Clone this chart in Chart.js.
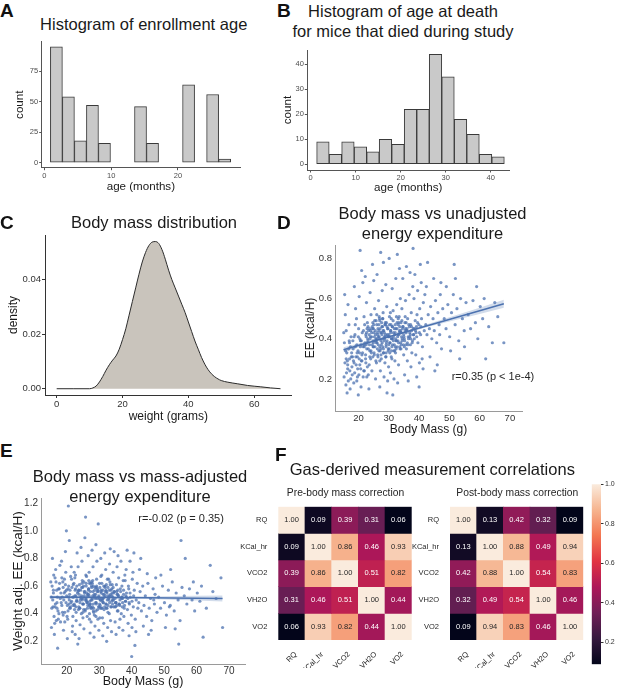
<!DOCTYPE html>
<html>
<head>
<meta charset="utf-8">
<title>Enrollment, body mass and energy expenditure</title>
<script src="https://cdn.jsdelivr.net/npm/chart.js@4.4.1/dist/chart.umd.min.js"></script>
<style>
html, body { margin: 0; padding: 0; background: #fff; }
#fig { position: relative; width: 617px; height: 689px; overflow: hidden; font-family: 'Liberation Sans', Arial, sans-serif; color: #1a1a1a; }
#fig canvas { position: absolute; }
.letter { position: absolute; font-size: 19px; font-weight: bold; line-height: 1; color: #111; }
.title { position: absolute; font-size: 16.5px; line-height: 20px; text-align: center; white-space: nowrap; transform: translateX(-50%); }
.sub { position: absolute; font-size: 10.3px; line-height: 1; white-space: nowrap; transform: translateX(-50%); color: #262626; }
.note { position: absolute; font-size: 11px; line-height: 1; white-space: nowrap; color: #262626; }
</style>
</head>
<body>
<div id="fig">
  <canvas id="chartA" style="left:0px;top:40px" width="245" height="155"></canvas>
  <canvas id="chartB" style="left:276px;top:45px" width="239" height="152"></canvas>
  <canvas id="chartC" style="left:0px;top:230px" width="297" height="195"></canvas>
  <canvas id="chartD" style="left:298px;top:240px" width="232" height="198"></canvas>
  <canvas id="chartE" style="left:0px;top:493px" width="250" height="196"></canvas>
  <canvas id="chartPre" style="left:240px;top:500px" width="175" height="180"></canvas>
  <canvas id="chartPost" style="left:410px;top:500px" width="177" height="180"></canvas>
  <canvas id="chartBar" style="left:588px;top:480px" width="29" height="188"></canvas>

  <div class="letter" style="left:0px;top:0.8px">A</div>
  <div class="letter" style="left:277px;top:1px">B</div>
  <div class="letter" style="left:0px;top:212.5px">C</div>
  <div class="letter" style="left:277px;top:212.5px">D</div>
  <div class="letter" style="left:0px;top:441px">E</div>
  <div class="letter" style="left:275px;top:444.5px">F</div>

  <div class="title" style="left:143.7px;top:13.6px">Histogram of enrollment age</div>
  <div class="title" style="left:403px;top:1px">Histogram of age at death<br>for mice that died during study</div>
  <div class="title" style="left:154px;top:212px">Body mass distribution</div>
  <div class="title" style="left:432.5px;top:202.6px">Body mass vs unadjusted<br>energy expenditure</div>
  <div class="title" style="left:140px;top:466px">Body mass vs mass-adjusted<br>energy expenditure</div>
  <div class="title" style="left:432.3px;top:459.3px">Gas-derived measurement correlations</div>
  <div class="sub" style="left:345.5px;top:488px">Pre-body mass correction</div>
  <div class="sub" style="left:517.3px;top:488px">Post-body mass correction</div>
  <div class="note" style="left:451.7px;top:370.7px">r=0.35 (p &lt; 1e-4)</div>
  <div class="note" style="left:138.3px;top:513.4px">r=-0.02 (p = 0.35)</div>
</div>

<script>
// A: enrollment age histogram (bin centres, months)
var enrollBinMid = [1.8, 3.6, 5.4, 7.2, 9.0, 10.8, 12.6, 14.4, 16.2, 18.0, 19.8, 21.6, 23.4, 25.2, 27.0];
var enrollCounts = [95, 54, 18, 47, 16, 0, 0, 46, 16, 0, 0, 64, 0, 56, 3];
var enrollTicksX = [0, 10, 20];
var enrollTicksY = [0, 25, 50, 75];

// B: age at death histogram
var deathBinMid = [2.72, 5.5, 8.28, 11.06, 13.84, 16.62, 19.4, 22.18, 24.96, 27.74, 30.52, 33.3, 36.08, 38.86, 41.64];
var deathCounts = [9, 4, 9, 7, 5, 10, 8, 22, 22, 44, 35, 18, 12, 4, 3];
var deathTicksX = [0, 10, 20, 30, 40];
var deathTicksY = [0, 10, 20, 30, 40];

// C: body mass density curve
var weightGrid = [0, 5, 10, 11, 12, 13, 14, 15, 16, 17, 18, 19, 20, 21, 22, 23, 24, 25, 26, 27, 28, 29, 30, 31, 32, 33, 34, 35, 36, 37, 38, 39, 40, 41, 42, 43, 44, 45, 46, 47, 48, 49, 50, 52, 55, 58, 62, 65, 68];
var weightDensity = [0, 0, 0, 0.0003, 0.001, 0.0025, 0.0045, 0.0068, 0.0088, 0.0105, 0.012, 0.0145, 0.018, 0.022, 0.027, 0.032, 0.037, 0.042, 0.0465, 0.05, 0.0525, 0.0538, 0.054, 0.0533, 0.051, 0.0475, 0.0435, 0.04, 0.037, 0.034, 0.031, 0.028, 0.0245, 0.021, 0.0175, 0.0145, 0.0115, 0.009, 0.007, 0.0055, 0.0044, 0.0036, 0.003, 0.0024, 0.0018, 0.0012, 0.0007, 0.0003, 0];
var weightTicksX = [0, 20, 40, 60];
var weightTicksY = [0, 0.02, 0.04];

// D: body mass (g) vs unadjusted EE (kcal/H)
var unadjustedPoints = [
  [15.2,0.21],[15.5,0.28],[15.8,0.17],[16.1,0.33],[16.4,0.25],[15.3,0.38],[15.9,0.44],[16.6,0.19],[17.0,0.30],[17.3,0.36],
  [16.2,0.13],[15.6,0.52],[17.5,0.41],[16.8,0.47],[17.8,0.26],[15.4,0.62],[16.0,0.23],[17.2,0.15],[15.7,0.34],[16.9,0.39],
  [17.6,0.31],[15.1,0.43],[16.3,0.29],[17.9,0.22],[16.5,0.57],
  [18.2,0.35],[18.5,0.28],[18.8,0.42],[19.1,0.31],[19.4,0.37],[19.7,0.25],[20.0,0.45],[20.3,0.33],[20.6,0.39],[20.9,0.29],
  [21.2,0.43],[21.5,0.36],[21.8,0.51],[18.4,0.18],[19.0,0.55],[19.6,0.21],[20.2,0.61],[20.8,0.16],[21.4,0.68],[18.9,0.47],
  [19.9,0.12],[21.0,0.74],[21.7,0.24],[20.5,0.84],[18.6,0.66],[19.3,0.50],[21.1,0.32],[20.4,0.40],[19.8,0.34],[18.1,0.39],
  [22.1,0.38],[22.4,0.42],[22.7,0.35],[23.0,0.40],[23.3,0.44],[23.6,0.37],[23.9,0.41],[24.2,0.33],[24.5,0.46],[24.8,0.39],
  [25.1,0.43],[25.4,0.36],[25.7,0.40],[22.3,0.30],[22.9,0.48],[23.5,0.27],[24.1,0.52],[24.7,0.31],[25.3,0.55],[25.9,0.28],
  [22.6,0.58],[23.2,0.22],[23.8,0.63],[24.4,0.24],[25.0,0.69],[25.6,0.20],[22.2,0.71],[23.4,0.15],[24.6,0.77],[25.8,0.49],
  [22.8,0.45],[23.7,0.34],[24.9,0.38],[25.2,0.41],[24.0,0.44],[22.5,0.37],
  [26.0,0.40],[26.2,0.43],[26.5,0.37],[26.8,0.41],[27.1,0.45],[27.4,0.39],[27.7,0.42],[28.0,0.36],[28.3,0.44],[28.6,0.40],
  [28.9,0.47],[29.2,0.38],[29.5,0.42],[29.8,0.35],[26.3,0.32],[26.9,0.50],[27.5,0.30],[28.1,0.53],[28.7,0.28],[29.3,0.56],
  [29.9,0.26],[26.6,0.59],[27.2,0.24],[27.8,0.64],[28.4,0.21],[29.0,0.67],[29.6,0.19],[26.1,0.72],[27.0,0.16],[28.2,0.78],
  [29.4,0.13],[27.3,0.83],[28.8,0.48],[26.7,0.34],[27.9,0.46],[29.1,0.33],[29.7,0.41],[28.5,0.39],[27.6,0.43],[26.4,0.45],
  [30.0,0.42],[30.3,0.38],[30.6,0.44],[30.9,0.40],[31.2,0.46],[31.5,0.41],[31.8,0.37],[32.1,0.43],[32.4,0.39],[32.7,0.45],
  [33.0,0.42],[33.3,0.48],[33.6,0.36],[33.9,0.44],[30.2,0.51],[30.8,0.31],[31.4,0.54],[32.0,0.29],[32.6,0.57],[33.2,0.27],
  [33.8,0.60],[30.5,0.23],[31.1,0.65],[31.7,0.20],[32.3,0.70],[32.9,0.18],[33.5,0.75],[30.1,0.80],[31.3,0.12],[32.8,0.82],
  [33.1,0.50],[31.9,0.34],[30.7,0.47],[32.2,0.40],[31.0,0.36],[33.4,0.43],
  [34.1,0.43],[34.4,0.39],[34.7,0.46],[35.0,0.41],[35.3,0.48],[35.6,0.37],[35.9,0.44],[36.2,0.50],[36.5,0.40],[36.8,0.46],
  [37.1,0.42],[37.4,0.53],[37.7,0.38],[34.3,0.55],[34.9,0.32],[35.5,0.59],[36.1,0.29],[36.7,0.62],[37.3,0.26],[37.9,0.66],
  [34.6,0.70],[35.2,0.22],[35.8,0.76],[36.4,0.19],[37.0,0.73],[37.6,0.33],[34.0,0.35],[36.0,0.45],[35.4,0.51],[37.2,0.47],
  [38.1,0.45],[38.4,0.40],[38.7,0.49],[39.0,0.43],[39.3,0.52],[39.6,0.38],[39.9,0.47],[40.2,0.55],[40.5,0.42],[40.8,0.50],
  [41.1,0.36],[41.4,0.58],[41.7,0.44],[38.3,0.60],[38.9,0.32],[39.5,0.64],[40.1,0.28],[40.7,0.68],[41.3,0.25],[41.9,0.62],
  [38.6,0.72],[39.2,0.21],[40.4,0.77],[41.0,0.30],[38.0,0.85],[40.0,0.16],
  [42.2,0.47],[42.6,0.42],[43.0,0.52],[43.4,0.45],[43.8,0.56],[44.2,0.40],[44.6,0.50],[45.0,0.44],[45.4,0.59],[45.8,0.38],
  [46.2,0.53],[46.6,0.47],[47.0,0.62],[47.4,0.35],[47.8,0.55],[42.4,0.66],[43.6,0.31],[44.8,0.70],[46.0,0.27],[47.2,0.68],
  [42.8,0.78],[45.2,0.24],[46.8,0.42],
  [48.3,0.50],[48.9,0.45],[49.5,0.57],[50.1,0.41],[50.7,0.53],[51.3,0.62],[51.9,0.47],[52.5,0.55],[53.1,0.39],[53.7,0.60],
  [54.3,0.50],[54.9,0.44],[55.5,0.58],[49.0,0.66],[50.4,0.34],[52.0,0.70],[53.4,0.30],[55.0,0.36],[51.6,0.77],
  [56.2,0.52],[57.0,0.45],[57.8,0.59],[58.6,0.48],[59.4,0.40],[60.2,0.56],[61.0,0.50],[62.0,0.30],[63.0,0.46],[64.2,0.38],
  [65.0,0.58],[66.0,0.51],[68.0,0.38],[59.0,0.66],[61.5,0.60],
  [24.3,0.41],[24.9,0.36],[25.5,0.44],[26.1,0.38],[26.7,0.47],[27.3,0.35],[27.9,0.40],[28.5,0.43],[29.1,0.37],[29.7,0.45],
  [30.3,0.41],[30.9,0.34],[31.5,0.39],[32.1,0.47],[32.7,0.36],[33.3,0.42],[33.9,0.38],[34.5,0.45],[35.1,0.40],[35.7,0.43],
  [36.3,0.37],[24.6,0.45],[25.2,0.32],[25.8,0.39],[26.4,0.42],[27.0,0.36],[27.6,0.48],[28.2,0.33],[28.8,0.41],[29.4,0.46],
  [30.0,0.37],[30.6,0.43],[31.2,0.40],[31.8,0.45],[32.4,0.35],[33.0,0.39],[33.6,0.46],[34.2,0.41],[34.8,0.37],[35.4,0.44],
  [23.1,0.39],[23.7,0.45],[22.5,0.41],[21.9,0.36],[36.9,0.41],[37.5,0.44],[38.2,0.42],[39.1,0.46],[28.0,0.50],[30.5,0.53],
  [26.0,0.52],[32.5,0.51],[29.0,0.31],[31.0,0.30],[27.0,0.29],[34.0,0.48],[25.0,0.47],[35.8,0.35],[20.8,0.37],[19.5,0.33],
  [20.2,0.30],[20.6,0.36],[19.9,0.41],[20.4,0.27],[21.3,0.33],[20.9,0.39],[21.6,0.44],[21.1,0.29],
  [22.3,0.32],[21.8,0.37],[22.6,0.43],[22.0,0.47],[22.4,0.28],[23.2,0.35],[22.8,0.38],[23.5,0.42],[23.1,0.46],[23.7,0.31],[22.9,0.26],
  [24.1,0.34],[24.5,0.37],[23.8,0.40],[24.3,0.43],[24.7,0.48],[24.0,0.30],
  [25.1,0.33],[24.8,0.36],[25.4,0.39],[25.6,0.42],[24.9,0.45],[25.3,0.49],[25.7,0.29],
  [26.2,0.35],[25.9,0.38],[26.5,0.41],[26.7,0.44],[26.0,0.47],[26.4,0.31],[26.8,0.51],
  [27.1,0.34],[27.5,0.37],[26.9,0.40],[27.3,0.43],[27.7,0.46],[27.0,0.49],[27.4,0.32],
  [28.2,0.35],[27.8,0.38],[28.5,0.41],[28.1,0.44],[28.7,0.47],[28.3,0.33],[27.9,0.50],
  [29.1,0.36],[29.4,0.39],[28.9,0.42],[29.6,0.45],[29.2,0.48],[29.8,0.34],[29.0,0.31],
  [30.1,0.35],[30.4,0.38],[29.9,0.41],[30.6,0.44],[30.2,0.47],[30.8,0.50],[30.3,0.33],
  [31.2,0.37],[30.9,0.40],[31.5,0.43],[31.1,0.46],[31.7,0.34],[31.4,0.49],
  [32.1,0.36],[32.5,0.39],[31.9,0.42],[32.3,0.45],[32.7,0.48],[32.2,0.33],
  [33.2,0.38],[32.9,0.41],[33.5,0.44],[33.1,0.47],[33.7,0.35],[33.4,0.51],
  [34.1,0.37],[34.4,0.40],[33.9,0.43],[34.6,0.46],[34.3,0.49],
  [35.2,0.39],[34.9,0.42],[35.5,0.45],[35.1,0.36],[35.7,0.48],
  [36.1,0.38],[36.4,0.41],[35.9,0.44],[36.6,0.47],[37.2,0.40],[36.9,0.43],[37.5,0.46],[37.1,0.37],
  [38.1,0.42],[38.4,0.45],[37.8,0.39],[39.2,0.41],[38.8,0.44],[39.5,0.48],[40.1,0.43],[40.6,0.46],
  [16.4,0.27],[17.1,0.24],[17.7,0.33],[18.3,0.29],[18.7,0.23],[19.2,0.27],[19.6,0.31],[20.1,0.22],[16.7,0.35],[17.4,0.20],
  [18.0,0.31],[18.9,0.36],[19.4,0.19],[20.7,0.25],[21.5,0.21],[15.9,0.30],[17.0,0.38],[18.5,0.41],[21.9,0.24],[22.7,0.21]
];
var fitMass = [15, 30, 45, 60, 68];
var unadjFit = [0.345, 0.410, 0.475, 0.539, 0.574];
var unadjLow = [0.333, 0.406, 0.467, 0.523, 0.554];
var unadjHigh = [0.357, 0.414, 0.483, 0.555, 0.594];
var massTicks = [20, 30, 40, 50, 60, 70];
var unadjTicksY = [0.2, 0.4, 0.6, 0.8];

// E: body mass (g) vs weight-adjusted EE (kcal/H)
var adjustedPoints = [
  [15.2,0.52],[15.5,0.60],[15.8,0.45],[16.1,0.38],[16.4,0.66],[15.3,0.30],[15.9,0.55],[16.6,0.72],[17.0,0.48],[17.3,0.42],
  [16.2,0.25],[15.6,0.80],[17.5,0.58],[16.8,0.35],[17.8,0.62],[15.4,0.44],[16.0,0.68],[17.2,0.15],[15.7,0.50],[16.9,0.57],
  [17.6,0.40],[15.1,0.63],[16.3,0.33],[17.9,0.75],[16.5,0.47],
  [18.2,0.55],[18.5,0.46],[18.8,0.63],[19.1,0.50],[19.4,0.41],[19.7,0.70],[20.0,0.53],[20.3,0.36],[20.6,0.60],[20.9,0.44],
  [21.2,0.67],[21.5,0.49],[21.8,0.31],[18.4,0.78],[19.0,0.28],[19.6,0.85],[20.2,0.22],[20.8,0.93],[21.4,0.74],[18.9,0.39],
  [19.9,1.00],[21.0,0.57],[21.7,0.27],[20.5,1.18],[18.6,0.52],[19.3,0.65],[21.1,0.45],[20.4,0.58],[19.8,0.48],[18.1,0.34],
  [22.1,0.52],[22.4,0.46],[22.7,0.58],[23.0,0.49],[23.3,0.55],[23.6,0.43],[23.9,0.61],[24.2,0.50],[24.5,0.40],[24.8,0.64],
  [25.1,0.47],[25.4,0.56],[25.7,0.42],[22.3,0.70],[22.9,0.35],[23.5,0.74],[24.1,0.32],[24.7,0.78],[25.3,0.29],[25.9,0.68],
  [22.6,0.25],[23.2,0.84],[23.8,0.22],[24.4,0.88],[25.0,0.37],[25.6,0.95],[22.2,0.62],[23.4,0.18],[24.6,0.53],[25.8,1.10],
  [22.8,0.45],[23.7,0.57],[24.9,0.51],[25.2,0.60],[24.0,0.44],[22.5,0.66],
  [26.0,0.50],[26.2,0.55],[26.5,0.46],[26.8,0.58],[27.1,0.49],[27.4,0.62],[27.7,0.44],[28.0,0.53],[28.3,0.41],[28.6,0.57],
  [28.9,0.48],[29.2,0.65],[29.5,0.43],[29.8,0.52],[26.3,0.38],[26.9,0.70],[27.5,0.34],[28.1,0.74],[28.7,0.31],[29.3,0.78],
  [29.9,0.28],[26.6,0.82],[27.2,0.26],[27.8,0.86],[28.4,0.23],[29.0,0.90],[29.6,0.36],[26.1,0.67],[27.0,0.40],[28.2,0.60],
  [29.4,0.56],[27.3,0.47],[28.8,0.51],[26.7,0.54],[27.9,0.45],[29.1,0.59],[29.7,1.05],[28.5,0.39],[27.6,0.63],[26.4,0.48],
  [30.0,0.51],[30.3,0.46],[30.6,0.57],[30.9,0.49],[31.2,0.54],[31.5,0.43],[31.8,0.60],[32.1,0.47],[32.4,0.55],[32.7,0.41],
  [33.0,0.52],[33.3,0.63],[33.6,0.45],[33.9,0.58],[30.2,0.37],[30.8,0.68],[31.4,0.33],[32.0,0.72],[32.6,0.30],[33.2,0.76],
  [33.8,0.27],[30.5,0.80],[31.1,0.24],[31.7,0.84],[32.3,0.20],[32.9,0.65],[33.5,0.35],[30.1,0.62],[31.3,0.48],[32.8,0.53],
  [33.1,0.40],[31.9,0.56],[30.7,0.44],[32.2,0.61],[31.0,0.50],[33.4,0.87],
  [34.1,0.50],[34.4,0.45],[34.7,0.56],[35.0,0.48],[35.3,0.61],[35.6,0.42],[35.9,0.53],[36.2,0.47],[36.5,0.58],[36.8,0.40],
  [37.1,0.52],[37.4,0.64],[37.7,0.44],[34.3,0.70],[34.9,0.34],[35.5,0.74],[36.1,0.30],[36.7,0.78],[37.3,0.28],[37.9,0.68],
  [34.6,0.85],[35.2,0.25],[35.8,0.82],[36.4,0.36],[37.0,0.60],[37.6,0.38],[34.0,0.55],[36.0,0.66],[35.4,0.46],[37.2,0.51],
  [38.1,0.49],[38.4,0.55],[38.7,0.43],[39.0,0.60],[39.3,0.47],[39.6,0.52],[39.9,0.39],[40.2,0.65],[40.5,0.45],[40.8,0.57],
  [41.1,0.36],[41.4,0.50],[41.7,0.62],[38.3,0.72],[38.9,0.33],[39.5,0.78],[40.1,0.30],[40.7,0.84],[41.3,0.27],[41.9,0.44],
  [38.6,0.86],[39.2,0.24],[40.4,0.70],[41.0,0.17],[38.0,0.64],[40.0,0.09],
  [42.2,0.48],[42.6,0.56],[43.0,0.42],[43.4,0.60],[43.8,0.46],[44.2,0.53],[44.6,0.38],[45.0,0.62],[45.4,0.44],[45.8,0.51],
  [46.2,0.35],[46.6,0.58],[47.0,0.47],[47.4,0.66],[47.8,0.41],[42.4,0.72],[43.6,0.31],[44.8,0.69],[46.0,0.28],[47.2,0.54],
  [42.8,0.80],[45.2,0.25],[46.8,0.50],
  [48.3,0.52],[48.9,0.44],[49.5,0.60],[50.1,0.48],[50.7,0.39],[51.3,0.57],[51.9,0.46],[52.5,0.63],[53.1,0.42],[53.7,0.55],
  [54.3,0.50],[54.9,0.35],[55.5,0.59],[49.0,0.68],[50.4,0.30],[52.0,0.72],[53.4,0.29],[54.5,0.18],[51.6,0.45],[55.2,0.93],
  [56.2,0.53],[57.0,0.47],[57.8,0.58],[58.6,0.50],[59.4,0.42],[60.2,0.55],[61.0,0.49],[62.0,0.23],[63.0,0.44],[64.2,0.75],
  [65.0,0.56],[66.0,0.51],[67.5,0.66],[68.0,0.30],[59.0,0.63],[61.5,0.60],[56.5,0.80],
  [24.3,0.52],[24.9,0.47],[25.5,0.55],[26.1,0.49],[26.7,0.58],[27.3,0.45],[27.9,0.51],[28.5,0.54],[29.1,0.47],[29.7,0.56],
  [30.3,0.50],[30.9,0.44],[31.5,0.52],[32.1,0.57],[32.7,0.46],[33.3,0.53],[33.9,0.49],[34.5,0.55],[35.1,0.48],[35.7,0.54],
  [36.3,0.46],[24.6,0.59],[25.2,0.43],[25.8,0.50],[26.4,0.53],[27.0,0.46],[27.6,0.60],[28.2,0.42],[28.8,0.52],[29.4,0.58],
  [30.0,0.45],[30.6,0.55],[31.2,0.51],[31.8,0.59],[32.4,0.44],[33.0,0.50],[33.6,0.57],[34.2,0.52],[34.8,0.45],[35.4,0.56],
  [23.1,0.50],[23.7,0.57],[22.5,0.53],[21.9,0.46],[36.9,0.52],[37.5,0.57],[38.2,0.53],[39.1,0.58],[28.0,0.64],[30.5,0.67],
  [26.0,0.62],[32.5,0.65],[29.0,0.38],[31.0,0.37],[27.0,0.36],[34.0,0.61],[25.0,0.41],[35.8,0.42],[20.8,0.50],[19.5,0.56],
  [20.2,0.46],[20.6,0.52],[19.9,0.57],[20.4,0.42],[21.3,0.48],[20.9,0.54],[21.6,0.59],[21.1,0.44],
  [22.3,0.47],[21.8,0.52],[22.6,0.57],[22.0,0.61],[22.4,0.43],[23.2,0.49],[22.8,0.53],[23.5,0.56],[23.1,0.60],[23.7,0.45],[22.9,0.41],
  [24.1,0.48],[24.5,0.51],[23.8,0.54],[24.3,0.57],[24.7,0.62],[24.0,0.44],
  [25.1,0.47],[24.8,0.50],[25.4,0.53],[25.6,0.56],[24.9,0.59],[25.3,0.63],[25.7,0.43],
  [26.2,0.48],[25.9,0.51],[26.5,0.54],[26.7,0.57],[26.0,0.60],[26.4,0.44],[26.8,0.64],
  [27.1,0.47],[27.5,0.50],[26.9,0.53],[27.3,0.56],[27.7,0.59],[27.0,0.62],[27.4,0.44],
  [28.2,0.47],[27.8,0.50],[28.5,0.53],[28.1,0.56],[28.7,0.59],[28.3,0.44],[27.9,0.62],
  [29.1,0.48],[29.4,0.51],[28.9,0.54],[29.6,0.57],[29.2,0.60],[29.8,0.45],[29.0,0.42],
  [30.1,0.47],[30.4,0.50],[29.9,0.53],[30.6,0.56],[30.2,0.59],[30.8,0.62],[30.3,0.44],
  [31.2,0.48],[30.9,0.51],[31.5,0.54],[31.1,0.57],[31.7,0.45],[31.4,0.60],
  [32.1,0.47],[32.5,0.50],[31.9,0.53],[32.3,0.56],[32.7,0.59],[32.2,0.44],
  [33.2,0.48],[32.9,0.51],[33.5,0.54],[33.1,0.57],[33.7,0.45],[33.4,0.61],
  [34.1,0.47],[34.4,0.50],[33.9,0.53],[34.6,0.56],[34.3,0.59],
  [35.2,0.48],[34.9,0.51],[35.5,0.54],[35.1,0.45],[35.7,0.57],
  [36.1,0.47],[36.4,0.50],[35.9,0.53],[36.6,0.56],[37.2,0.48],[36.9,0.51],[37.5,0.54],[37.1,0.45],
  [38.1,0.49],[38.4,0.52],[37.8,0.46],[39.2,0.48],[38.8,0.51],[39.5,0.55],[40.1,0.49],[40.6,0.53],
  [16.4,0.45],[17.1,0.52],[17.7,0.58],[18.3,0.48],[18.7,0.41],[19.2,0.55],[19.6,0.61],[20.1,0.38],[16.7,0.63],[17.4,0.36],
  [18.0,0.51],[18.9,0.59],[19.4,0.34],[20.7,0.47],[21.5,0.65],[15.9,0.57],[17.0,0.44],[18.5,0.66],[21.9,0.38],[22.7,0.68]
];
var adjFit = [0.520, 0.518, 0.515, 0.512, 0.510];
var adjLow = [0.508, 0.513, 0.506, 0.495, 0.488];
var adjHigh = [0.532, 0.523, 0.524, 0.529, 0.532];
var adjTicksY = [0.2, 0.4, 0.6, 0.8, 1.0, 1.2];

// F: correlation matrices
var corrLabels = ['RQ', 'KCal_hr', 'VCO2', 'VH2O', 'VO2'];
var preCorr = [
  [1.00, 0.09, 0.39, 0.31, 0.06],
  [0.09, 1.00, 0.86, 0.46, 0.93],
  [0.39, 0.86, 1.00, 0.51, 0.82],
  [0.31, 0.46, 0.51, 1.00, 0.44],
  [0.06, 0.93, 0.82, 0.44, 1.00]
];
var postCorr = [
  [1.00, 0.13, 0.42, 0.32, 0.09],
  [0.13, 1.00, 0.88, 0.49, 0.94],
  [0.42, 0.88, 1.00, 0.54, 0.83],
  [0.32, 0.49, 0.54, 1.00, 0.46],
  [0.09, 0.94, 0.83, 0.46, 1.00]
];
var colorbarTicks = [0.2, 0.4, 0.6, 0.8, 1.0];

var rocketStops = ['#03051a', '#35193e', '#701f57', '#ad1759', '#e13342', '#f37651', '#f6b48f', '#faebdd'];

Chart.defaults.font.family = "'Liberation Sans', Arial, sans-serif";
Chart.defaults.color = '#333';
Chart.defaults.responsive = false;
Chart.defaults.animation = false;
Chart.defaults.events = [];
Chart.defaults.plugins.legend.display = false;
Chart.defaults.plugins.tooltip.enabled = false;

function hexRgb(h) {
  return [parseInt(h.substr(1, 2), 16), parseInt(h.substr(3, 2), 16), parseInt(h.substr(5, 2), 16)];
}

function rocket(t) {
  t = Math.max(0, Math.min(1, t)) * (rocketStops.length - 1);
  var i = Math.min(Math.floor(t), rocketStops.length - 2);
  var f = t - i;
  var a = hexRgb(rocketStops[i]), b = hexRgb(rocketStops[i + 1]);
  return [0, 1, 2].map(function (k) { return Math.round(a[k] + (b[k] - a[k]) * f); });
}

function rgbText(c) { return 'rgb(' + c.join(',') + ')'; }

function inkFor(c) {
  var l = c.map(function (v) {
    v /= 255;
    return v <= 0.03928 ? v / 12.92 : Math.pow((v + 0.055) / 1.055, 2.4);
  });
  return 0.2126 * l[0] + 0.7152 * l[1] + 0.0722 * l[2] > 0.408 ? '#262626' : '#ffffff';
}

function setTicks(values) {
  return function (scale) {
    scale.ticks = values.map(function (v) { return { value: v }; });
  };
}
function fitY(w) {
  return function (s) { s.width = w; s.paddingTop = 0; s.paddingBottom = 0; };
}
function fitX(h) {
  return function (s) { s.height = h; s.paddingLeft = 0; s.paddingRight = 0; };
}

function linAxis(s) {
  var vertical = s.position === 'left' || s.position === 'right';
  return {
    type: 'linear', position: s.position, min: s.min, max: s.max, offset: false,
    afterBuildTicks: setTicks(s.ticks),
    afterFit: vertical ? fitY(s.size) : fitX(s.size),
    grid: { display: s.tickLen > 0, drawOnChartArea: false, drawTicks: true, tickLength: s.tickLen, color: s.line, offset: false },
    border: { display: true, color: s.line, width: 1 },
    ticks: { font: { size: s.font }, color: s.ink, padding: s.pad, autoSkip: false, maxRotation: 0, callback: s.fmt },
    title: { display: true, text: s.title, color: '#1a1a1a', font: { size: s.titleSize }, padding: s.titlePad }
  };
}

function plain(v) { return String(v); }
function oneDec(v) { return v.toFixed(1); }
function twoDec(v) { return v.toFixed(2); }

function toXY(xs, ys) {
  return xs.map(function (x, i) { return { x: x, y: ys[i] }; });
}

function histChart(id, mids, counts, pad, xs, ys) {
  return new Chart(document.getElementById(id), {
    type: 'bar',
    data: {
      datasets: [{
        data: toXY(mids, counts),
        backgroundColor: '#c9c9c9',
        borderColor: '#3a3a3a',
        borderWidth: 1,
        borderSkipped: false,
        barPercentage: 1,
        categoryPercentage: 1
      }]
    },
    options: { layout: { padding: pad }, scales: { x: linAxis(xs), y: linAxis(ys) } }
  });
}

histChart('chartA', enrollBinMid, enrollCounts, { top: 1.7, right: 5, left: 0, bottom: 0 },
  { position: 'bottom', min: -0.4, max: 29.3, ticks: enrollTicksX, size: 27.3, tickLen: 2.5, line: '#555', font: 7.5, ink: '#4d4d4d', pad: 1, fmt: plain, title: 'age (months)', titleSize: 11.6, titlePad: { bottom: 1 } },
  { position: 'left', min: -4.1, max: 99.3, ticks: enrollTicksY, size: 41.7, tickLen: 2.5, line: '#555', font: 7.5, ink: '#4d4d4d', pad: 1, fmt: plain, title: 'count', titleSize: 11.6, titlePad: { top: 13 } });

histChart('chartB', deathBinMid, deathCounts, { top: 5, right: 6, left: 0, bottom: 0 },
  { position: 'bottom', min: -0.75, max: 44.07, ticks: deathTicksX, size: 27, tickLen: 2.5, line: '#555', font: 7.5, ink: '#4d4d4d', pad: 1, fmt: plain, title: 'age (months)', titleSize: 11.6, titlePad: { bottom: 2.5 } },
  { position: 'left', min: -2.3, max: 45.7, ticks: deathTicksY, size: 31.3, tickLen: 2.5, line: '#555', font: 7.5, ink: '#4d4d4d', pad: 1, fmt: plain, title: 'count', titleSize: 11.6, titlePad: { top: 4.5 } });

new Chart(document.getElementById('chartC'), {
  type: 'scatter',
  data: {
    datasets: [{
      type: 'line',
      data: toXY(weightGrid, weightDensity),
      borderColor: '#2b2b2b',
      borderWidth: 1,
      backgroundColor: '#c9c4bc',
      fill: 'origin',
      pointRadius: 0,
      cubicInterpolationMode: 'monotone'
    }]
  },
  options: {
    layout: { padding: { top: 5, right: 5.3, left: 0, bottom: 0 } },
    scales: {
      x: linAxis({ position: 'bottom', min: -3.55, max: 71.4, ticks: weightTicksX, size: 30, tickLen: 3, line: '#333', font: 9.5, ink: '#333', pad: 1, fmt: plain, title: 'weight (grams)', titleSize: 12, titlePad: { bottom: 1.1 } }),
      y: linAxis({ position: 'left', min: -0.0023, max: 0.0564, ticks: weightTicksY, size: 45, tickLen: 3, line: '#333', font: 9.5, ink: '#333', pad: 1, fmt: twoDec, title: 'density', titleSize: 12, titlePad: { top: 6.8 } })
    }
  }
});

function regChart(id, points, fit, low, high, pad, xs, ys) {
  var blue = '#4c72b0';
  return new Chart(document.getElementById(id), {
    type: 'scatter',
    data: {
      datasets: [
        { type: 'line', data: toXY(fitMass, fit), borderColor: blue, borderWidth: 1.6, pointRadius: 0, fill: false, order: 1 },
        { type: 'line', data: toXY(fitMass, low), borderWidth: 0, pointRadius: 0, fill: false, order: 2 },
        { type: 'line', data: toXY(fitMass, high), borderWidth: 0, pointRadius: 0, fill: '-1', backgroundColor: 'rgba(76,114,176,0.25)', order: 2 },
        {
          data: points.map(function (p) { return { x: p[0], y: p[1] }; }),
          pointRadius: 1.6, borderWidth: 0, backgroundColor: 'rgba(76,114,176,0.75)', order: 3
        }
      ]
    },
    options: { layout: { padding: pad }, scales: { x: linAxis(xs), y: linAxis(ys) } }
  });
}

regChart('chartD', unadjustedPoints, unadjFit, unadjLow, unadjHigh, { top: 5, right: 8, left: 0, bottom: 0 },
  { position: 'bottom', min: 12.2, max: 74, ticks: massTicks, size: 27, tickLen: 0, line: '#9a9a9a', font: 9.5, ink: '#333', pad: 1.5, fmt: plain, title: 'Body Mass (g)', titleSize: 12, titlePad: { bottom: 0.8 } },
  { position: 'left', min: 0.04, max: 0.867, ticks: unadjTicksY, size: 37, tickLen: 0, line: '#9a9a9a', font: 9.5, ink: '#333', pad: 3, fmt: oneDec, title: 'EE (kcal/H)', titleSize: 12, titlePad: { top: 5.6 } });

regChart('chartE', adjustedPoints, adjFit, adjLow, adjHigh, { top: 5, right: 5, left: 0, bottom: 0 },
  { position: 'bottom', min: 12.08, max: 74.9, ticks: massTicks, size: 25, tickLen: 0, line: '#9a9a9a', font: 10, ink: '#333', pad: 1.5, fmt: plain, title: 'Body Mass (g)', titleSize: 12.5, titlePad: { bottom: 0 } },
  { position: 'left', min: 0.0355, max: 1.238, ticks: adjTicksY, size: 41, tickLen: 0, line: '#9a9a9a', font: 10, ink: '#333', pad: 3, fmt: oneDec, title: 'Weight adj. EE (kcal/H)', titleSize: 13.5, titlePad: { top: 9.9 } });

// writes each correlation value in the middle of its cell
var cellText = {
  id: 'cellText',
  afterDatasetsDraw: function (chart) {
    var ctx = chart.ctx;
    ctx.save();
    ctx.font = "7.5px 'Liberation Sans', Arial, sans-serif";
    ctx.textAlign = 'center';
    ctx.textBaseline = 'middle';
    chart.data.datasets.forEach(function (ds, i) {
      chart.getDatasetMeta(i).data.forEach(function (bar, j) {
        ctx.fillStyle = ds.ink[j];
        ctx.fillText(ds.values[j].toFixed(2), bar.x, (bar.y + bar.base) / 2);
      });
    });
    ctx.restore();
  }
};

function heatChart(id, matrix, pad, labelWidth) {
  var vmin = Math.min.apply(null, [].concat.apply([], matrix));
  var datasets = matrix.map(function (row, r) {
    var cols = row.map(function (v) { return rocket((v - vmin) / (1 - vmin)); });
    return {
      data: row.map(function () { return [4 - r, 5 - r]; }),
      values: row,
      backgroundColor: cols.map(rgbText),
      ink: cols.map(inkFor),
      borderWidth: 0,
      grouped: false,
      barPercentage: 1,
      categoryPercentage: 1
    };
  });
  return new Chart(document.getElementById(id), {
    type: 'bar',
    data: { labels: corrLabels, datasets: datasets },
    options: {
      layout: { padding: pad },
      scales: {
        x: {
          afterFit: fitX(28),
          grid: { display: false }, border: { display: false },
          ticks: { font: { size: 7.5 }, color: '#262626', padding: 2, minRotation: 45, maxRotation: 45, autoSkip: false, labelOffset: 4 }
        },
        y: {
          type: 'linear', min: 0, max: 5,
          afterBuildTicks: setTicks([0.5, 1.5, 2.5, 3.5, 4.5]),
          afterFit: fitY(labelWidth),
          grid: { display: false }, border: { display: false },
          ticks: { font: { size: 7.5 }, color: '#262626', padding: 3, callback: function (v) { return corrLabels[Math.round(4.5 - v)]; } }
        }
      }
    },
    plugins: [cellText]
  });
}

heatChart('chartPre', preCorr, { top: 6.7, right: 3.3, left: 0, bottom: 12 }, 38.3);
heatChart('chartPost', postCorr, { top: 6.7, right: 3.7, left: 0, bottom: 12 }, 40);

var barMin = Math.min.apply(null, [].concat.apply([], postCorr));
new Chart(document.getElementById('chartBar'), {
  type: 'bar',
  data: {
    labels: [''],
    datasets: [{
      data: [[barMin, 1]],
      borderWidth: 0,
      barPercentage: 1,
      categoryPercentage: 1,
      backgroundColor: function (c) {
        var y = c.chart.scales.y;
        if (!c.chart.chartArea || !y) return rgbText(rocket(0.5));
        var g = c.chart.ctx.createLinearGradient(0, y.getPixelForValue(barMin), 0, y.getPixelForValue(1));
        rocketStops.forEach(function (s, i) { g.addColorStop(i / (rocketStops.length - 1), s); });
        return g;
      }
    }]
  },
  options: {
    layout: { padding: { left: 3.7, top: 4.3, bottom: 3.7, right: 0 } },
    scales: {
      x: { display: false },
      y: {
        type: 'linear', position: 'right', min: barMin, max: 1,
        afterBuildTicks: setTicks(colorbarTicks),
        afterFit: fitY(16),
        grid: { display: true, drawOnChartArea: false, tickLength: 2.5, color: '#333' },
        border: { display: false },
        ticks: { font: { size: 7 }, color: '#333', padding: 1.5, callback: oneDec }
      }
    }
  }
});
</script>
</body>
</html>
